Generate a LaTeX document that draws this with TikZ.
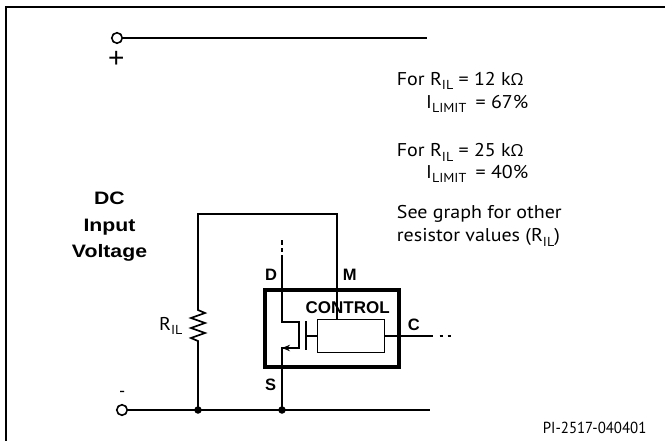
\documentclass[tikz,border=0pt]{standalone}
\usepackage{fontspec}
\setmainfont{PT Sans}[FakeStretch=1.08]
\newfontfamily\omfont{Open Sans}
\newfontfamily\lblfont{Liberation Sans}
\newfontfamily\dcfont[FakeStretch=1.18]{Liberation Sans}
\newfontfamily\idfont[FakeStretch=0.93]{PT Sans}
\usetikzlibrary{arrows.meta}
\newcommand\lsub[1]{\raisebox{-4.6pt}{\fontsize{13}{13}\selectfont #1}}
\newcommand\ohm{{\omfont\fontsize{16.5}{18}\selectfont Ω}}
\tikzset{
  wire/.style={line width=1.7pt, line cap=butt},
  txt/.style={inner sep=0pt, anchor=base west, font=\fontsize{18.5}{20}\selectfont},
  pin/.style={inner sep=0pt, anchor=base west, font=\lblfont\bfseries\fontsize{16.5}{18}\selectfont},
  term/.style={circle, draw, line width=1.6pt, minimum size=10.5pt, inner sep=0pt, fill=white},
  dot/.style={circle, fill, minimum size=7.5pt, inner sep=0pt},
}
\begin{document}
\begin{tikzpicture}[x=1pt,y=-1pt]
\useasboundingbox (0,0) rectangle (665,440);
% frame
\draw[line width=2.3pt] (6,441) -- (6,7) -- (666,7);
% coordinates
\coordinate (topend) at (427,38);
\coordinate (botend) at (430,410);
\coordinate (j1) at (198,410);
\coordinate (j2) at (282,410);
\coordinate (rbot) at (198,341);
\coordinate (rtop) at (198,310);
\coordinate (rtl) at (198,214);
\coordinate (rtr) at (337,214);
\coordinate (mpin) at (337,319.3);
\coordinate (dtop) at (282,255);
\coordinate (ch1) at (282,322);
\coordinate (ch2) at (299,322);
\coordinate (ch3) at (299,348);
\coordinate (src) at (282,348);
\coordinate (g1) at (305.7,321);
\coordinate (g2) at (305.7,350);
\coordinate (gm) at (305.7,336);
\coordinate (cl) at (317.7,336);
\coordinate (cr) at (384.3,336);
\coordinate (cend) at (433,336);
% terminals
\node[term] (tp) at (117,38) {};
\node[term] (tn) at (122,410) {};
\draw[wire] (tp) -- (topend);
\draw[wire] (tn) -- (botend);
\node[inner sep=0pt, font=\lblfont\fontsize{28}{28}\selectfont] (plus) at (116.4,59.3) {+};
\node[inner sep=0pt, font=\lblfont\fontsize{17}{17}\selectfont] (minus) at (122.3,393.7) {-};
% resistor branch
\draw[wire, line join=miter] (j1) -- (rbot) -- (191,338) -- (205,333) -- (191,328) -- (205,323) -- (191,318) -- (205,313) -- (rtop) -- (rtl) -- (rtr) -- (mpin);
% MOSFET
\draw[wire] (282,240) -- (282,245);
\draw[wire] (282,248) -- (282,252);
\draw[wire] (dtop) -- (ch1) -- (ch2) -- (ch3) -- (src) -- (j2);
\draw[wire, -{Stealth[length=8pt,width=6.5pt]}] (ch3) -- (src);
\draw[wire] (g1) -- (g2);
\draw[wire] (gm) -- (cl);
% control box
\draw[line width=1.3pt] (317.7,319.3) rectangle (384.3,352.7);
\draw[wire] (cr) -- (cend);
\draw[wire] (439.5,336) -- (443,336);
\draw[wire] (447.5,336) -- (451,336);
% big box
\draw[line width=4pt] (264.7,290) rectangle (399,367);
% junctions
\node[dot] (d1) at (j1) {};
\node[dot] (d2) at (j2) {};
% labels
\node[pin] (lD) at (265,280.7) {D};
\node[pin] (lM) at (342.7,280.7) {M};
\node[pin] (lS) at (265,390) {S};
\node[pin] (lC) at (407.7,330) {C};
\node[inner sep=0pt, anchor=base, font=\lblfont\bfseries\fontsize{17}{18}\selectfont] (ctl) at (347.7,313.3) {CONTROL};
\node[txt] (rl) at (159,330) {R\lsub{IL}};
\node[inner sep=0pt, anchor=base, font=\dcfont\bfseries\fontsize{18}{18}\selectfont] (dc1) at (109.5,204) {DC};
\node[inner sep=0pt, anchor=base, font=\dcfont\bfseries\fontsize{18}{18}\selectfont] (dc2) at (109.5,231.5) {Input};
\node[inner sep=0pt, anchor=base, font=\dcfont\bfseries\fontsize{18}{18}\selectfont] (dc3) at (109.5,257.5) {Voltage};
\node[txt] (t1) at (396.7,85) {For R\lsub{IL} = 12 k\ohm};
\node[txt] (t2) at (426,108.3) {I\lsub{LIMIT}\hspace{4pt} = 67\%};
\node[txt] (t3) at (396.7,156.7) {For R\lsub{IL} = 25 k\ohm};
\node[txt] (t4) at (426,178.3) {I\lsub{LIMIT}\hspace{4pt} = 40\%};
\node[txt] (t5) at (396.7,218.3) {See graph for other};
\node[txt] (t6) at (396.7,241.7) {resistor values (R\lsub{IL})};
\node[inner sep=0pt, anchor=base west, font=\idfont\fontsize{16}{16}\selectfont] (pid) at (542.7,433.3) {PI-2517-040401};
\end{tikzpicture}
\end{document}
